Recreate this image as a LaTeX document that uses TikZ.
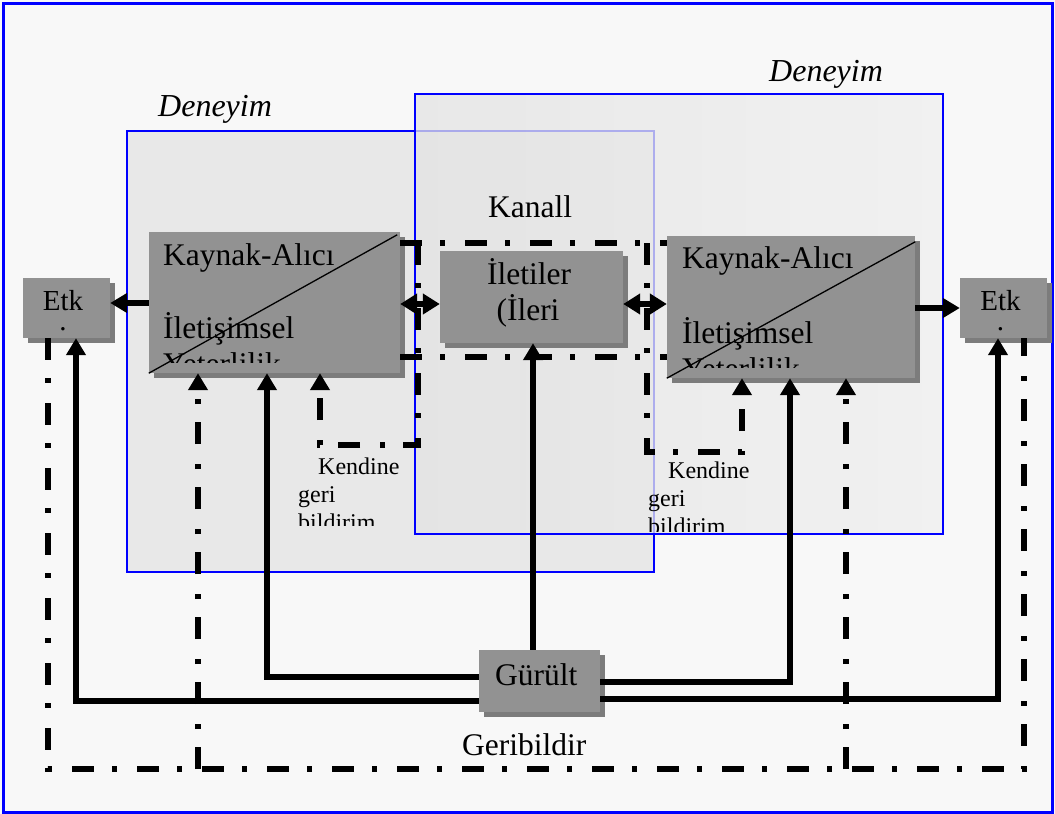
\documentclass[tikz,border=0pt]{standalone}
\usepackage{fontspec}
\setmainfont{Liberation Serif}
\usetikzlibrary{arrows.meta,shadows}
\definecolor{bg}{HTML}{F8F8F8}
\definecolor{denfillA}{HTML}{E8E8E8}
\definecolor{denfillB}{HTML}{E3E3E3}
\definecolor{denfillC}{HTML}{EFEFEF}
\definecolor{boxfill}{HTML}{929292}
\definecolor{boxshadow}{HTML}{7C7C7C}
\definecolor{frameblue}{HTML}{0000FF}
\begin{document}
\begin{tikzpicture}[x=1pt,y=-1pt,
 graybox/.style={draw=none,fill=boxfill,inner sep=0,drop shadow={shadow xshift=5pt,shadow yshift=-5pt,fill=boxshadow,opacity=1}},
 denbox/.style={draw=frameblue,line width=1.8pt,inner sep=0},
 big/.style={font=\fontsize{31.5}{36}\selectfont,inner sep=0},
 deny/.style={font=\fontsize{32}{36}\selectfont\itshape,inner sep=0},
 small/.style={font=\fontsize{24}{28}\selectfont,inner sep=0},
 etkt/.style={font=\fontsize{29}{20}\selectfont,inner sep=0,align=center},
 sol/.style={line width=5.5pt},
 dd/.style={line width=6pt,dash pattern=on 22pt off 18pt on 5pt off 20pt},
 tip/.style={-{Triangle[length=17pt,width=19pt]}},
 dtip/.style={{Triangle[length=17pt,width=20pt]}-{Triangle[length=17pt,width=20pt]}},
]
\useasboundingbox (0,0) rectangle (1055,814);
\fill[bg] (0,0) rectangle (1055,814);
\draw[frameblue,line width=3pt] (3,3) rectangle (1052,812);

% experience boxes
\node[denbox,fill=denfillA,minimum width=527pt,minimum height=441pt] (den1) at (390.5,351.5) {};
\node[denbox,left color=denfillB,right color=denfillC,fill opacity=0.75,minimum width=528pt,minimum height=440pt] (den2) at (679,314) {};
\node[deny,anchor=base west] (dl1) at (158,116) {Deneyim};
\node[deny,anchor=base west] (dl2) at (769,81) {Deneyim};
\node[big,anchor=base west] (kanal) at (488,217) {Kanall};

% gray boxes
\node[graybox,minimum width=251pt,minimum height=141pt] (ka1) at (274.5,302.5) {};
\node[graybox,minimum width=248pt,minimum height=142pt] (ka2) at (791,307) {};
\node[graybox,minimum width=87pt,minimum height=60pt] (etk1) at (66.5,308) {};
\node[graybox,minimum width=87pt,minimum height=60pt] (etk2) at (1003.5,308) {};
\node[graybox,minimum width=183pt,minimum height=92pt] (ilet) at (531.5,297) {};
\node[graybox,minimum width=121pt,minimum height=62pt] (gur) at (539.5,681) {};

% texts in boxes
\begin{scope}
\clip (149,232) rectangle (400,362);
\node[big,anchor=base west] (ka1a) at (163,265) {Kaynak-Alıcı};
\node[big,anchor=base west] (ka1b) at (163,338) {İletişimsel};
\node[big,anchor=base west] (ka1c) at (163,374) {Yeterlilik};
\end{scope}
\begin{scope}
\clip (667,236) rectangle (915,367);
\node[big,anchor=base west] (ka2a) at (682,268) {Kaynak-Alıcı};
\node[big,anchor=base west] (ka2b) at (682,343) {İletişimsel};
\node[big,anchor=base west] (ka2c) at (682,379) {Yeterlilik};
\end{scope}
\draw[line width=1.3pt] (ka1.south west) -- ([xshift=-3pt,yshift=-3pt]ka1.north east);
\draw[line width=1.3pt] (ka2.south west) -- ([yshift=-6pt]ka2.north east);
\node[etkt] (e1) at (63,311) {Etk\\.};
\node[etkt] (e2) at (1000.5,311) {Etk\\.};
\node[big,anchor=base] (il1) at (529,284) {İletiler};
\node[big,anchor=base] (il2) at (528,320) {(İleri};
\node[big,anchor=base west] (gt) at (495,685) {Gürült};
\node[big,anchor=base west] (geri) at (462,755) {Geribildir};

% self feedback labels
\begin{scope}
\clip (250,440) rectangle (420,525);
\node[small,anchor=base west] (k1a) at (318,474) {Kendine};
\node[small,anchor=base west] (k1b) at (298,502) {geri};
\node[small,anchor=base west] (k1c) at (298,530) {bildirim};
\end{scope}
\begin{scope}
\clip (600,440) rectangle (800,531);
\node[small,anchor=base west] (k2a) at (668,478) {Kendine};
\node[small,anchor=base west] (k2b) at (648,506) {geri};
\node[small,anchor=base west] (k2c) at (648,534) {bildirim};
\end{scope}

% main solid arrows
\draw[sol,tip] (ka1.west |- 0,303) -- (etk1.east |- 0,303);
\draw[sol,dtip] (ka1.east |- 0,304) -- (ilet.west |- 0,304);
\draw[sol,dtip] (ilet.east |- 0,304) -- (ka2.west |- 0,304);
\draw[sol,tip] (ka2.east |- 0,308) -- (etk2.west |- 0,308);

% channel loop (dash-dot)
\draw[dd] (ka1.east |- 0,243) -- (ka2.west |- 0,243);
\draw[dd] (ka1.east |- 0,357) -- (ka2.west |- 0,357);
\coordinate (s1) at (418,243);
\coordinate (s2) at (647,243);
\draw[dd,tip] (s1) -- (418,445) -- (320,445) -- (ka1.south -| 320,0);
\draw[dd,tip] (s2) -- (647,452) -- (742,452) -- (ka2.south -| 742,0);

% feedback (dash-dot)
\draw[dd] (etk1.south -| 48,0) -- (48,769) -- (1024,769) -- (etk2.south -| 1024,0);
\coordinate (f1) at (198,769);
\coordinate (f2) at (846,769);
\draw[dd,tip] (f1) -- (ka1.south -| 198,0);
\draw[dd,tip] (f2) -- (ka2.south -| 846,0);

% noise
\draw[sol,tip] (gur.north -| 533,0) -- (ilet.south -| 533,0);
\draw[sol,tip] (gur.west |- 0,677) -| (ka1.south -| 267,0);
\draw[sol,tip] (gur.west |- 0,701) -| (etk1.south -| 76,0);
\draw[sol,tip] (gur.east |- 0,682) -| (ka2.south -| 790,0);
\draw[sol,tip] (gur.east |- 0,699) -| (etk2.south -| 998,0);
\end{tikzpicture}
\end{document}
